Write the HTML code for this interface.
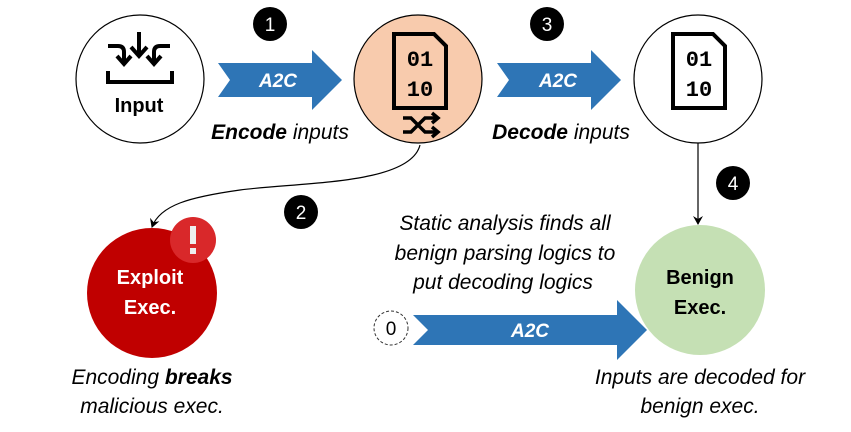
<!DOCTYPE html>
<html><head><style>
html,body{margin:0;padding:0;background:#fff;}
svg{display:block;font-family:"Liberation Sans",sans-serif;}
</style></head><body>
<svg width="851" height="432" viewBox="0 0 851 432" xmlns="http://www.w3.org/2000/svg">
<defs>
<marker id="ah" markerWidth="10" markerHeight="10" refX="8" refY="5" orient="auto" markerUnits="userSpaceOnUse">
<path d="M0,0 L9,5 L0,10 L3,5 Z" fill="#000"/>
</marker>
</defs>
<circle cx="140" cy="79" r="64" fill="#fff" stroke="#000" stroke-width="1.2"/>
<circle cx="418" cy="79" r="64" fill="#f8cbad" stroke="#000" stroke-width="1.2"/>
<circle cx="698" cy="79" r="64" fill="#fff" stroke="#000" stroke-width="1.2"/>
<circle cx="152" cy="293" r="65" fill="#c00000"/>
<circle cx="193" cy="240" r="23" fill="#d9282a"/>
<rect x="190" y="226" width="6" height="18" fill="#eee"/>
<rect x="190" y="248" width="6" height="6" fill="#eee"/>
<circle cx="700" cy="290" r="65" fill="#c5e0b4"/>

<g stroke="#000" stroke-width="4" fill="none">
<path d="M139,32 V55"/><path d="M131,47 L139,56 L147,47"/>
<path d="M108,46 H118 Q124,46 124,52 V62"/><path d="M117,56 L124,64 L131,56"/>
<path d="M170,46 H160 Q154,46 154,52 V62"/><path d="M147,56 L154,64 L161,56"/>
<path d="M108,71 V82 H172 V71"/>
</g>
<text x="139" y="112" font-size="20" font-weight="bold" text-anchor="middle">Input</text>

<g stroke="#000" stroke-width="4" fill="none">
<path d="M394,34 H434 L446,46 V108 H394 Z"/>
<path d="M673,34 H713 L725,46 V108 H673 Z"/>
</g>
<g font-family="Liberation Mono,monospace" font-weight="bold" font-size="22" text-anchor="middle">
<text x="420" y="66">01</text><text x="420" y="96">10</text>
<text x="699" y="66">01</text><text x="699" y="96">10</text>
</g>
<g stroke="#000" stroke-width="3.5" fill="none">
<path d="M403,118 H411 L425,132 H437"/><path d="M403,132 H411 L425,118 H437"/>
<path d="M432,113 L438,118 L432,123"/><path d="M432,127 L438,132 L432,137"/>
</g>

<path d="M218,63 H312 V50 L342,80 L312,110 V97 H218 L230,80 Z" fill="#2e75b6"/>
<path d="M497,63 H591 V50 L621,80 L591,110 V97 H497 L509,80 Z" fill="#2e75b6"/>
<path d="M413,315 H617 V300 L647,330 L617,360 V345 H413 L428,330 Z" fill="#2e75b6"/>
<g fill="#fff" font-size="19" font-weight="bold" font-style="italic" text-anchor="middle">
<text x="278" y="87">A2C</text><text x="558" y="87">A2C</text><text x="530" y="337">A2C</text>
</g>

<g fill="#000"><circle cx="270" cy="24" r="17"/><circle cx="547" cy="24" r="17"/><circle cx="301" cy="212" r="17"/><circle cx="733" cy="183" r="17"/></g>
<g fill="#fff" font-size="19" text-anchor="middle">
<text x="270" y="31">1</text><text x="547" y="31">3</text><text x="301" y="219">2</text><text x="733" y="190">4</text>
</g>
<circle cx="391" cy="328" r="17" fill="#fff" stroke="#333" stroke-dasharray="3,2"/>
<text x="391" y="335" font-size="19" text-anchor="middle">0</text>

<path d="M420,145 C410,185 300,182 240,190 C190,197 160,205 152,227" fill="none" stroke="#000" stroke-width="1.2" marker-end="url(#ah)"/>
<path d="M698,143 V224" stroke="#000" stroke-width="1.2" marker-end="url(#ah)"/>

<g font-size="21" font-style="italic">
<text x="280" y="139" text-anchor="middle"><tspan font-weight="bold">Encode</tspan> inputs</text>
<text x="561" y="139" text-anchor="middle"><tspan font-weight="bold">Decode</tspan> inputs</text>
<text x="505" y="230" text-anchor="middle">Static analysis finds all</text>
<text x="505" y="260" text-anchor="middle">benign parsing logics to</text>
<text x="503" y="289" text-anchor="middle">put decoding logics</text>
<text x="152" y="384" text-anchor="middle">Encoding <tspan font-weight="bold">breaks</tspan></text>
<text x="152" y="413" text-anchor="middle">malicious exec.</text>
<text x="700" y="384" text-anchor="middle">Inputs are decoded for</text>
<text x="700" y="413" text-anchor="middle">benign exec.</text>
</g>
<g font-size="20" font-weight="bold" text-anchor="middle">
<text x="150" y="284" fill="#fff">Exploit</text>
<text x="150" y="314" fill="#fff">Exec.</text>
<text x="700" y="284">Benign</text>
<text x="700" y="314">Exec.</text>
</g>
</svg>
</body></html>
